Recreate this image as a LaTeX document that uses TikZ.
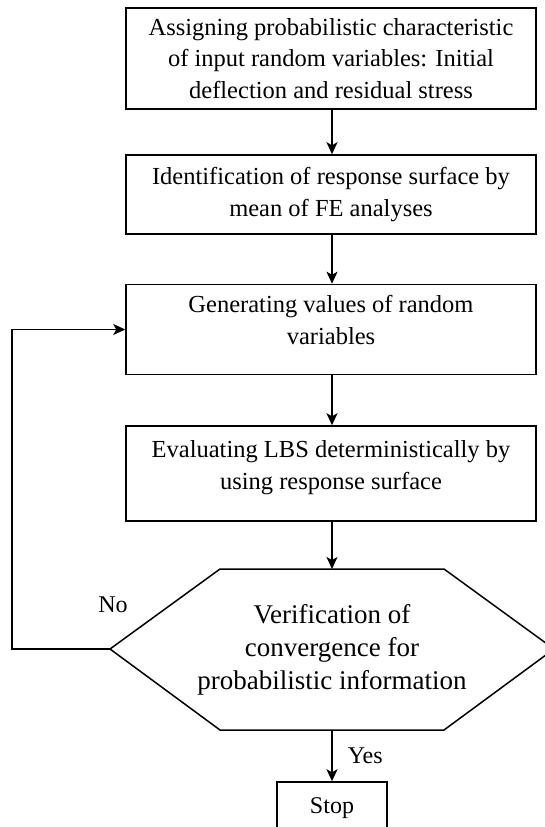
\documentclass[tikz,border=0pt]{standalone}
\usepackage{fontspec}
\setmainfont{Liberation Serif}
\usetikzlibrary{arrows.meta}
\begin{document}
\begin{tikzpicture}[x=1pt,y=-1pt,line width=1.5pt,
    >={Stealth[length=12pt,width=11pt,inset=3pt]},
    stepbox/.style={draw,align=center,minimum width=410pt,inner sep=0pt,
      font=\fontsize{24.5}{31.5}\selectfont},
    lbl/.style={font=\fontsize{24}{28}\selectfont,inner sep=0pt}]
  \useasboundingbox (0,0) rectangle (544,827);
  \node[stepbox,minimum height=101pt] (assign) at (331,58.5)
    {Assigning probabilistic characteristic\\of input random variables: Initial\\deflection and residual stress};
  \node[stepbox,minimum height=79pt] (ident) at (331,194.5)
    {Identification of response surface by\\mean of FE analyses};
  \node[stepbox,minimum height=90pt] (gen) at (331,329.5)
    {Generating values of random\\variables\\[-12pt]\mbox{}};
  \node[stepbox,minimum height=95pt] (eval) at (331,473.5)
    {Evaluating LBS deterministically by\\using response surface\\[-14pt]\mbox{}};
  % hexagon for the check
  \coordinate (hexT) at (332,569);
  \coordinate (hexB) at (332,730);
  \coordinate (hexL) at (110,649);
  \draw (220,569) -- (444,569) -- (554,649) -- (444,730) -- (220,730) -- (hexL) -- cycle;
  \node[align=center,inner sep=0pt,font=\fontsize{27}{33}\selectfont] (verify) at (332,650)
    {Verification of\\convergence for\\probabilistic information};
  \node[draw,minimum width=110pt,minimum height=52pt,inner sep=0pt,
    font=\fontsize{24}{28}\selectfont] (stop) at (332,808) {Stop};
  \coordinate (loopB) at (12,649);
  \coordinate (loopT) at (12,329.5);
  \draw[->] (assign.south -| hexT) -- (ident.north -| hexT);
  \draw[->] (ident.south -| hexT) -- (gen.north -| hexT);
  \draw[->] (gen.south -| hexT) -- (eval.north -| hexT);
  \draw[->] (eval.south -| hexT) -- (hexT);
  \draw[->] (hexB) -- (stop.north);
  \draw[->] (hexL) -- (loopB) -- (loopT) -- (gen.west);
  \node[lbl,anchor=west] (yes) at (347,756) {Yes};
  \node[lbl] (no) at (113,605) {No};
\end{tikzpicture}
\end{document}
